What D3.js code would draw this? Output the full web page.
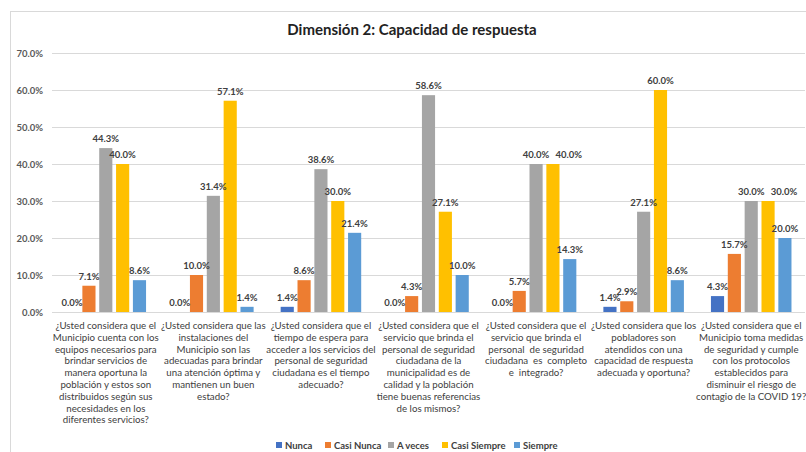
<!DOCTYPE html>
<html>
<head>
<meta charset="utf-8">
<script src="https://cdn.jsdelivr.net/npm/d3@7"></script>
<style>
  body { margin: 0; background: #fff; }
  svg { font-family: Lato, "Open Sans", sans-serif; }
</style>
</head>
<body>
<div id="chart-area"></div>
<script>
// Data
var series = ["Nunca", "Casi Nunca", "A veces", "Casi Siempre", "Siempre"];
var colors = ["#4472C4", "#ED7D31", "#A5A5A5", "#FFC000", "#5B9BD5"];
var questions = [
    ["¿Usted considera que el", "Municipio cuenta con los", "equipos necesarios para", "brindar servicios de", "manera oportuna la", "población y estos son", "distribuidos según sus", "necesidades en los", "diferentes servicios?"],
    ["¿Usted considera que las", "instalaciones del", "Municipio son las", "adecuadas para brindar", "una atención óptima y", "mantienen un buen", "estado?"],
    ["¿Usted considera que el", "tiempo de espera para", "acceder a los servicios del", "personal de seguridad", "ciudadana es el tiempo", "adecuado?"],
    ["¿Usted considera que el", "servicio que brinda el", "personal de seguridad", "ciudadana de la", "municipalidad es de", "calidad y la población", "tiene buenas referencias", "de los mismos?"],
    ["¿Usted considera que el", "servicio que brinda el", "personal  de seguridad", "ciudadana  es  completo", "e  integrado?"],
    ["¿Usted considera que los", "pobladores son", "atendidos con una", "capacidad de respuesta", "adecuada y oportuna?"],
    ["¿Usted considera que el", "Municipio toma medidas", "de seguridad y cumple", "con los protocolos", "establecidos para", "disminuir el riesgo de", "contagio de la COVID 19?"]
];
var nunca       = [0.0, 0.0, 1.4, 0.0, 0.0, 1.4, 4.3];
var casiNunca   = [7.1, 10.0, 8.6, 4.3, 5.7, 2.9, 15.7];
var aVeces      = [44.3, 31.4, 38.6, 58.6, 40.0, 27.1, 30.0];
var casiSiempre = [40.0, 57.1, 30.0, 27.1, 40.0, 60.0, 30.0];
var siempre     = [8.6, 1.4, 21.4, 10.0, 14.3, 8.6, 20.0];
var yTicks = [0, 10, 20, 30, 40, 50, 60, 70];

var values = [nunca, casiNunca, aVeces, casiSiempre, siempre];

var W = 806, H = 452;
var margin = { left: 52, right: 1, top: 53, bottom: 140 };
var width = W - margin.left - margin.right,
    height = H - margin.top - margin.bottom;

var svg = d3.select("#chart-area")
    .append("svg")
        .attr("width", W)
        .attr("height", H);

// chart border
svg.append("rect")
    .attr("x", 10.5).attr("y", 11.5)
    .attr("width", 900).attr("height", 600)
    .attr("fill", "none")
    .attr("stroke", "#d9d9d9");

svg.append("text")
    .attr("x", 412)
    .attr("y", 35)
    .attr("text-anchor", "middle")
    .attr("font-size", "15px")
    .attr("font-weight", "bold")
    .attr("fill", "#222")
    .text("Dimensión 2: Capacidad de respuesta");

var g = svg.append("g")
    .attr("transform", "translate(" + margin.left + "," + margin.top + ")");

// Scales
var x0 = d3.scaleBand()
    .domain(d3.range(questions.length))
    .range([0, width])
    .paddingInner(0.22)
    .paddingOuter(0.11);
var x1 = d3.scaleBand()
    .domain(series)
    .range([0, x0.bandwidth()])
    .paddingInner(0.22)
    .paddingOuter(0.1);
var y = d3.scaleLinear()
    .domain([0, 70])
    .range([height, 0]);

// grid + y axis
var yAxisCall = d3.axisLeft(y)
    .tickValues(yTicks)
    .tickSize(-width)
    .tickFormat(function(d){ return d3.format(".1f")(d) + "%"; });
var yAxis = g.append("g").call(yAxisCall);
yAxis.select(".domain").remove();
yAxis.selectAll(".tick line").attr("stroke", "#d9d9d9");
yAxis.selectAll(".tick text")
    .attr("x", -9)
    .attr("font-size", "9.5px")
    .attr("font-weight", "bold")
    .attr("font-family", "Lato, sans-serif")
    .attr("fill", "#595959");

// bars
var groups = g.selectAll(".grp")
    .data(questions)
    .enter().append("g")
        .attr("class", "grp")
        .attr("transform", function(d, i){ return "translate(" + x0(i) + ",0)"; });

groups.each(function(q, i){
    var grp = d3.select(this);
    var rows = series.map(function(s, k){ return { s: s, v: values[k][i], c: colors[k] }; });
    grp.selectAll("rect")
        .data(rows)
        .enter().append("rect")
            .attr("x", function(d){ return x1(d.s); })
            .attr("width", x1.bandwidth())
            .attr("y", function(d){ return y(d.v); })
            .attr("height", function(d){ return height - y(d.v); })
            .attr("fill", function(d){ return d.c; });
    var labels = grp.selectAll("text.lbl")
        .data(rows)
        .enter().append("text")
            .attr("class", "lbl")
            .attr("x", function(d){ return x1(d.s) + x1.bandwidth() / 2; })
            .attr("y", function(d){ return y(d.v) - 6; })
            .attr("text-anchor", "middle")
            .attr("font-size", "9.5px")
            .attr("font-weight", "bold")
            .attr("fill", "#404040")
            .text(function(d){ return d3.format(".1f")(d.v) + "%"; });

    // nudge labels that sit on the same row and collide
    var prev = null;
    labels.each(function(){
        var el = d3.select(this);
        var b = this.getBBox();
        if (prev && Math.abs(prev.y - b.y) < 4 && b.x < prev.x + prev.width + 6) {
            var dx = prev.x + prev.width + 6 - b.x;
            el.attr("x", +el.attr("x") + dx);
            b = this.getBBox();
        }
        prev = b;
    });
});

// baseline
g.append("line")
    .attr("x1", 0).attr("x2", width)
    .attr("y1", height + 0.5).attr("y2", height + 0.5)
    .attr("stroke", "#d9d9d9");

// category labels
groups.each(function(q){
    var t = d3.select(this).append("text")
        .attr("text-anchor", "middle")
        .attr("font-size", "9.7px")
        .attr("fill", "#404040")
        .attr("transform", "translate(" + (x0.bandwidth() / 2) + "," + (height + 17) + ")");
    q.forEach(function(line, j){
        t.append("tspan")
            .attr("x", 0)
            .attr("y", j * 11.8)
            .style("white-space", "pre")
            .text(line);
    });
});

// legend
var legendX = [276, 325, 388, 442, 514];
var legend = svg.append("g");
series.forEach(function(s, k){
    var row = legend.append("g")
        .attr("transform", "translate(" + legendX[k] + ",445)");
    row.append("rect")
        .attr("x", 0).attr("y", -3)
        .attr("width", 6).attr("height", 6)
        .attr("fill", colors[k]);
    row.append("text")
        .attr("x", 9)
        .attr("y", 3.5)
        .attr("font-size", "9.5px")
        .attr("font-weight", "bold")
        .attr("fill", "#404040")
        .text(s);
});
</script>
</body>
</html>
